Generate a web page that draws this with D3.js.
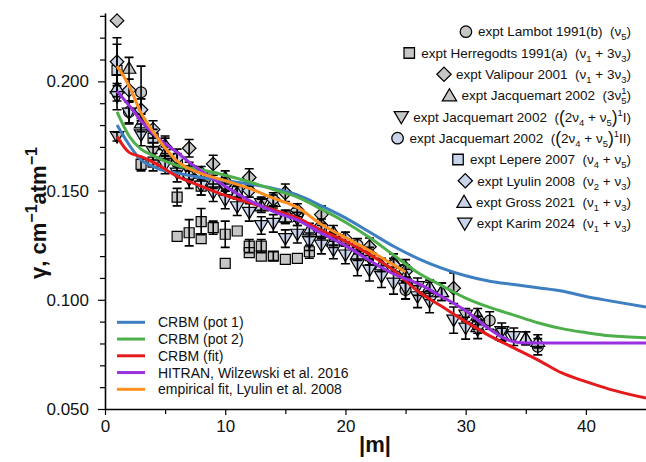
<!DOCTYPE html>
<html>
<head>
<meta charset="utf-8">
<script src="https://cdn.jsdelivr.net/npm/d3@7/dist/d3.min.js"></script>
<style>
  body { margin: 0; background: #fff; }
  svg { display: block; }
  text { font-family: "Liberation Sans", Arial, Helvetica, sans-serif; fill: #111; white-space: pre; }
</style>
</head>
<body>
<svg id="chart" width="646" height="462"></svg>
<script>
// ---- axis ticks ----
const xMajorTicks = [0, 10, 20, 30, 40];
const xMinorTicks = [5, 15, 25, 35];
const yMajorTicks = [0.05, 0.10, 0.15, 0.20];
const yMinorTicks = [0.06, 0.07, 0.08, 0.09, 0.11, 0.12, 0.13, 0.14, 0.16, 0.17, 0.18, 0.19, 0.21, 0.22, 0.23];

// ---- model curves: |m| and gamma (cm-1 atm-1) ----
const crbmPot1M = [1, 2, 3, 4, 5, 6, 8, 10, 12, 14, 16, 18, 20, 22, 24, 26, 28, 30, 32, 34, 36, 38, 40, 42, 45];
const crbmPot1G = [0.180, 0.171, 0.164, 0.161, 0.159, 0.158, 0.156, 0.1545, 0.153, 0.151, 0.148, 0.143, 0.1375, 0.131, 0.1245, 0.119, 0.1145, 0.111, 0.1085, 0.107, 0.1055, 0.104, 0.1015, 0.0995, 0.0967];

const crbmPot2M = [1, 2, 3, 4, 5, 6, 8, 10, 12, 14, 16, 18, 20, 22, 24, 26, 28, 30, 32, 34, 36, 38, 40, 42, 45];
const crbmPot2G = [0.186, 0.175, 0.169, 0.166, 0.1635, 0.1615, 0.1595, 0.157, 0.154, 0.1505, 0.147, 0.1415, 0.1355, 0.1285, 0.1205, 0.1125, 0.1065, 0.1008, 0.0965, 0.093, 0.0895, 0.0868, 0.085, 0.0835, 0.0826];

const crbmFitM = [1, 2, 3, 4, 6, 8, 10, 12, 14, 16, 18, 20, 22, 24, 26, 28, 30, 32, 34, 36, 38, 40, 42, 45];
const crbmFitG = [0.1747, 0.1675, 0.1655, 0.163, 0.1565, 0.152, 0.1478, 0.1445, 0.1412, 0.1375, 0.1318, 0.1268, 0.1208, 0.1135, 0.104, 0.097, 0.090, 0.0835, 0.078, 0.0725, 0.0665, 0.0625, 0.059, 0.055];

const hitranM = [1, 2, 3, 4, 5, 6, 7, 8, 10, 12, 14, 16, 18, 20, 22, 24, 26, 28, 30, 32, 33, 34, 35, 36, 45];
const hitranG = [0.1955, 0.189, 0.182, 0.176, 0.1715, 0.1675, 0.163, 0.159, 0.152, 0.1455, 0.1405, 0.1365, 0.1305, 0.1248, 0.118, 0.1118, 0.1075, 0.1015, 0.095, 0.0865, 0.083, 0.0808, 0.0802, 0.0802, 0.0802];

const lyulinFitM = [1, 2, 3, 4, 5, 6, 7, 8, 10, 12, 14, 16, 18, 20, 22, 24, 25];
const lyulinFitG = [0.207, 0.198, 0.1855, 0.177, 0.1695, 0.1635, 0.160, 0.1578, 0.1545, 0.151, 0.1465, 0.1423, 0.1345, 0.1285, 0.1225, 0.116, 0.1127];

// ---- measurements: |m|, gamma, uncertainty ----
const lambotM = [3, 25, 32, 36];
const lambotG = [0.195, 0.1045, 0.0905, 0.0785];
const lambotE = [0.012, 0.004, 0.004, 0.0037];

const herregodtsM = [3, 4, 6, 6, 7, 8, 8, 9, 10, 10, 11, 12, 12, 13, 13, 14, 15, 16, 17];
const herregodtsG = [0.162, 0.163, 0.147, 0.129, 0.1307, 0.1358, 0.128, 0.133, 0.130, 0.1167, 0.1315, 0.1246, 0.1216, 0.1246, 0.120, 0.120, 0.1185, 0.119, 0.122];
const herregodtsE = [0.003, 0.004, 0.004, 0, 0.006, 0.006, 0, 0.003, 0.006, 0, 0, 0.003, 0, 0.003, 0, 0.002, 0, 0, 0.003];

const valipourM = [1, 7, 9, 12, 15, 18, 22, 25, 29];
const valipourG = [0.2278, 0.1694, 0.1622, 0.156, 0.149, 0.139, 0.1243, 0.1144, 0.1053];
const valipourE = [0, 0.004, 0.004, 0.004, 0.004, 0.004, 0.004, 0.004, 0.007];

const jacq3v5M = [2, 5, 10, 14, 19, 24, 28, 31, 35];
const jacq3v5G = [0.206, 0.171, 0.156, 0.145, 0.131, 0.118, 0.1037, 0.093, 0.0824];
const jacq3v5E = [0.005, 0.004, 0.003, 0.003, 0.003, 0.003, 0.004, 0.003, 0.003];

const jacqIM = [1, 4, 7, 10, 13, 16, 19, 22, 26, 30, 33];
const jacqIG = [0.1747, 0.168, 0.159, 0.151, 0.144, 0.137, 0.128, 0.119, 0.106, 0.093, 0.084];
const jacqIE = [0.002, 0.004, 0.004, 0.003, 0.003, 0.003, 0.003, 0.003, 0.004, 0.003, 0.003];

const jacqIIM = [2, 6, 11, 16, 21, 27, 31];
const jacqIIG = [0.186, 0.163, 0.150, 0.139, 0.125, 0.104, 0.0895];
const jacqIIE = [0.005, 0.004, 0.003, 0.003, 0.003, 0.004, 0.003];

const lepereM = [1, 4, 8, 11, 15, 18];
const lepereG = [0.205, 0.174, 0.152, 0.1495, 0.138, 0.131];
const lepereE = [0.012, 0.004, 0.004, 0.003, 0.003, 0.003];

const lyulinM = [1, 2, 3, 4, 5, 6, 8, 10, 12, 14, 16, 18, 20, 22, 24, 25];
const lyulinG = [0.209, 0.196, 0.187, 0.178, 0.170, 0.165, 0.158, 0.153, 0.150, 0.146, 0.141, 0.134, 0.128, 0.121, 0.116, 0.113];
const lyulinE = [0.011, 0.005, 0.005, 0.004, 0.004, 0.004, 0.003, 0.003, 0.003, 0.003, 0.003, 0.003, 0.003, 0.003, 0.003, 0.003];

const grossM = [1, 3, 5, 7, 9, 11, 13, 15, 17, 19, 21, 23, 25, 27, 28, 31, 33, 35, 36];
const grossG = [0.197, 0.181, 0.167, 0.158, 0.154, 0.149, 0.143, 0.138, 0.132, 0.127, 0.121, 0.116, 0.111, 0.106, 0.1037, 0.0877, 0.084, 0.0824, 0.081];
const grossE = [0.006, 0.004, 0.003, 0.003, 0.003, 0.003, 0.003, 0.003, 0.003, 0.003, 0.003, 0.003, 0.003, 0.003, 0.004, 0.003, 0.003, 0.003, 0.003];

const karimM = [1, 2, 3, 5, 6, 7, 8, 9, 10, 11, 12, 13, 14, 15, 16, 17, 18, 19, 20, 21, 22, 23, 24, 25, 26, 27, 29, 30, 31, 33, 34];
const karimG = [0.193, 0.1855, 0.1755, 0.1617, 0.158, 0.155, 0.152, 0.149, 0.1457, 0.1426, 0.140, 0.134, 0.135, 0.128, 0.130, 0.1266, 0.125, 0.1228, 0.1205, 0.116, 0.1136, 0.1106, 0.1076, 0.1053, 0.1014, 0.0991, 0.0907, 0.087, 0.0862, 0.0854, 0.0831];
const karimE = [0.006, 0.005, 0.005, 0.004, 0.004, 0.004, 0.004, 0.004, 0.004, 0.004, 0.004, 0.004, 0.004, 0.004, 0.004, 0.004, 0.004, 0.004, 0.004, 0.005, 0.005, 0.005, 0.005, 0.005, 0.005, 0.005, 0.006, 0.005, 0.004, 0.004, 0.004];

// ---- styling ----
const GREY = "#c6c6c6";
const LBLUE = "#c8d4ea";

const svg = d3.select("#chart");
const x = d3.scaleLinear().domain([0, 45]).range([105, 646]);
const y = d3.scaleLinear().domain([0.05, 0.2313]).range([409, 13]);

// marker outlines centred on (0,0)
const shapes = {
  circle: "M5.5,0A5.5,5.5 0 1,1 -5.5,0A5.5,5.5 0 1,1 5.5,0Z",
  square: "M-5,-5H5V5H-5Z",
  diamond: "M0,-6.8L6.8,0L0,6.8L-6.8,0Z",
  up: "M0,-6.5L6.8,5L-6.8,5Z",
  down: "M0,6.5L6.8,-5L-6.8,-5Z"
};

const zip = (m, g, e) => m.map((v, i) => ({ m: v, g: g[i], e: e ? e[i] : 0 }));

const datasets = [
  { key: "lambot", shape: "circle", fill: GREY, data: zip(lambotM, lambotG, lambotE),
    label: [["n", "expt Lambot 1991(b)  (ν"], ["b", "5"], ["n", ")"]] },
  { key: "herregodts", shape: "square", fill: GREY, data: zip(herregodtsM, herregodtsG, herregodtsE),
    label: [["n", "expt Herregodts 1991(a)  (ν"], ["b", "1"], ["n", " + 3ν"], ["b", "3"], ["n", ")"]] },
  { key: "valipour", shape: "diamond", fill: GREY, data: zip(valipourM, valipourG, valipourE),
    label: [["n", "expt Valipour 2001  (ν"], ["b", "1"], ["n", " + 3ν"], ["b", "3"], ["n", ")"]] },
  { key: "jacq3v5", shape: "up", fill: GREY, data: zip(jacq3v5M, jacq3v5G, jacq3v5E),
    label: [["n", "expt Jacquemart 2002  (3ν"], ["bp", "5", "1"], ["n", ")"]] },
  { key: "jacqI", shape: "down", fill: GREY, data: zip(jacqIM, jacqIG, jacqIE),
    label: [["n", "expt Jacquemart 2002  ("], ["big", "("], ["n", "2ν"], ["b", "4"], ["n", " + ν"], ["b", "5"], ["big", ")"], ["p", "1"], ["n", "I)"]] },
  { key: "jacqII", shape: "circle", fill: LBLUE, data: zip(jacqIIM, jacqIIG, jacqIIE),
    label: [["n", "expt Jacquemart 2002  ("], ["big", "("], ["n", "2ν"], ["b", "4"], ["n", " + ν"], ["b", "5"], ["big", ")"], ["p", "1"], ["n", "II)"]] },
  { key: "lepere", shape: "square", fill: LBLUE, data: zip(lepereM, lepereG, lepereE),
    label: [["n", "expt Lepere 2007  (ν"], ["b", "4"], ["n", " + ν"], ["b", "5"], ["n", ")"]] },
  { key: "lyulin", shape: "diamond", fill: LBLUE, data: zip(lyulinM, lyulinG, lyulinE),
    label: [["n", "expt Lyulin 2008  (ν"], ["b", "2"], ["n", " + ν"], ["b", "3"], ["n", ")"]] },
  { key: "gross", shape: "up", fill: LBLUE, data: zip(grossM, grossG, grossE),
    label: [["n", "expt Gross 2021  (ν"], ["b", "1"], ["n", " + ν"], ["b", "3"], ["n", ")"]] },
  { key: "karim", shape: "down", fill: LBLUE, data: zip(karimM, karimG, karimE),
    label: [["n", "expt Karim 2024  (ν"], ["b", "1"], ["n", " + ν"], ["b", "3"], ["n", ")"]] }
];

const curves = [
  { name: "CRBM (pot 1)", color: "#3d7fc0", m: crbmPot1M, g: crbmPot1G },
  { name: "CRBM (pot 2)", color: "#4daf4a", m: crbmPot2M, g: crbmPot2G },
  { name: "CRBM (fit)", color: "#e41a1c", m: crbmFitM, g: crbmFitG },
  { name: "HITRAN, Wilzewski et al. 2016", color: "#9b30e0", m: hitranM, g: hitranG },
  { name: "empirical fit, Lyulin et al. 2008", color: "#ff8f1f", m: lyulinFitM, g: lyulinFitG }
];

// ---- clip to plotting area ----
svg.append("defs").append("clipPath").attr("id", "plotClip")
  .append("rect").attr("x", 105).attr("y", 13).attr("width", 541).attr("height", 396);

const plot = svg.append("g").attr("clip-path", "url(#plotClip)");

// markers
datasets.forEach(ds => {
  plot.append("g").selectAll("path").data(ds.data).join("path")
    .attr("d", shapes[ds.shape])
    .attr("transform", d => `translate(${x(d.m)},${y(d.g)})`)
    .attr("fill", ds.fill).attr("stroke", "#000").attr("stroke-width", 1.2);
});

// error bars drawn over the markers
const allPts = datasets.flatMap(ds => ds.data).filter(d => d.e > 0);
const eb = plot.append("g").attr("stroke", "#000").attr("stroke-width", 1.6).attr("fill", "none");
eb.selectAll("path").data(allPts).join("path")
  .attr("d", d => {
    const cx = x(d.m), y0 = y(d.g - d.e), y1 = y(d.g + d.e);
    return `M${cx},${y0}V${y1}M${cx - 4.5},${y0}H${cx + 4.5}M${cx - 4.5},${y1}H${cx + 4.5}`;
  });

// model curves on top
const line = d3.line().x(d => x(d[0])).y(d => y(d[1])).curve(d3.curveMonotoneX);
curves.forEach(c => {
  plot.append("path").datum(c.m.map((v, i) => [v, c.g[i]]))
    .attr("d", line).attr("fill", "none").attr("stroke", c.color)
    .attr("stroke-width", 3).attr("stroke-linejoin", "round");
});

// ---- axes ----
function styleAxis(g) {
  g.select(".domain").attr("stroke", "#000").attr("stroke-width", 1.6);
  g.selectAll(".tick line").attr("stroke", "#000").attr("stroke-width", 1.2);
  g.selectAll(".tick text").attr("font-size", 17).attr("fill", "#111")
    .attr("font-family", '"Liberation Sans", Arial, sans-serif');
}

svg.append("g").attr("transform", "translate(0,409)")
  .call(d3.axisBottom(x).tickValues(xMinorTicks).tickSize(5).tickSizeOuter(0).tickFormat(""))
  .call(g => { g.select(".domain").remove(); g.selectAll(".tick line").attr("stroke", "#000").attr("stroke-width", 1.2); });
svg.append("g").attr("transform", "translate(0,409)")
  .call(d3.axisBottom(x).tickValues(xMajorTicks).tickSize(6).tickSizeOuter(0).tickPadding(5).tickFormat(d3.format("d")))
  .call(styleAxis);

svg.append("g").attr("transform", "translate(105,0)")
  .call(d3.axisLeft(y).tickValues(yMinorTicks).tickSize(5).tickSizeOuter(0).tickFormat(""))
  .call(g => { g.select(".domain").remove(); g.selectAll(".tick line").attr("stroke", "#000").attr("stroke-width", 1.2); });
svg.append("g").attr("transform", "translate(105,0)")
  .call(d3.axisLeft(y).tickValues(yMajorTicks).tickSize(7).tickSizeOuter(0).tickPadding(9).tickFormat(d3.format(".3f")))
  .call(styleAxis);

// axis titles
svg.append("text").attr("x", 375).attr("y", 452).attr("text-anchor", "middle")
  .attr("font-size", 22).attr("font-weight", "bold").text("|m|");

const yt = svg.append("text").attr("transform", "translate(46,213) rotate(-90)")
  .attr("text-anchor", "middle").attr("font-size", 22).attr("font-weight", "bold");
yt.append("tspan").text("γ, cm");
yt.append("tspan").attr("dy", -9).attr("font-size", 16).text("−1");
yt.append("tspan").attr("dy", 9).text("atm");
yt.append("tspan").attr("dy", -9).attr("font-size", 16).text("−1");

// ---- legend: measurements (right-aligned, top right) ----
function richText(t, parts) {
  let shift = 0;
  parts.forEach(p => {
    const [k, s, s2] = p;
    if (k === "n") {
      t.append("tspan").attr("dy", -shift).text(s); shift = 0;
    } else if (k === "big") {
      t.append("tspan").attr("dy", 1.5 - shift).attr("font-size", "130%").text(s); shift = 1.5;
    } else if (k === "b") {
      t.append("tspan").attr("dy", 4 - shift).attr("font-size", "70%").text(s); shift = 4;
    } else if (k === "p") {
      t.append("tspan").attr("dy", -6 - shift).attr("font-size", "70%").text(s); shift = -6;
    } else if (k === "bp") {
      t.append("tspan").attr("dy", 4 - shift).attr("font-size", "70%").text(s);
      t.append("tspan").attr("dx", -5.3).attr("dy", -10).attr("font-size", "70%").text(s2);
      shift = -6;
    }
  });
}

const legTop = svg.append("g");
const legRows = datasets.map((ds, i) => {
  const cy = 31.7 + i * 21.3;
  const t = legTop.append("text").attr("x", 631).attr("y", cy + 4.7)
    .attr("text-anchor", "end").attr("font-size", 13.5);
  richText(t, ds.label);
  const mk = legTop.append("path").attr("d", shapes[ds.shape])
    .attr("fill", ds.fill).attr("stroke", "#000").attr("stroke-width", 1.2);
  return { t, mk, cy };
});

// place each legend marker just left of its label once the fonts are settled
function placeLegendMarkers() {
  legRows.forEach(r => {
    const bb = r.t.node().getBBox();
    r.mk.attr("transform", `translate(${bb.x - 12},${r.cy}) scale(1.05)`);
  });
}
placeLegendMarkers();
if (document.fonts && document.fonts.ready) document.fonts.ready.then(placeLegendMarkers);

// ---- legend: model curves (bottom left) ----
const legBot = svg.append("g");
curves.forEach((c, i) => {
  const cy = 322.3 + i * 16.75;
  legBot.append("line").attr("x1", 117).attr("x2", 145).attr("y1", cy).attr("y2", cy)
    .attr("stroke", c.color).attr("stroke-width", 3);
  legBot.append("text").attr("x", 158).attr("y", cy + 5).attr("font-size", 14).text(c.name);
});
</script>
</body>
</html>
